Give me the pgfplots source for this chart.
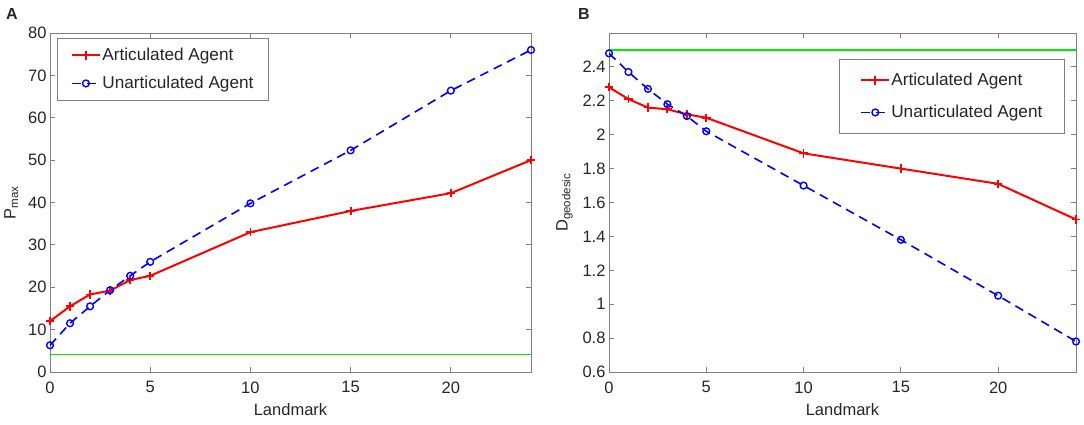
\documentclass[border=0pt]{standalone}
\usepackage{pgfplots}
\pgfplotsset{compat=1.18}
\usepackage{fontspec}
\setmainfont{Liberation Sans}
\definecolor{axgray}{RGB}{128,128,128}
\definecolor{txt}{RGB}{38,38,38}
\definecolor{mred}{RGB}{255,0,0}
\definecolor{mblue}{RGB}{0,0,255}
\definecolor{mgreen}{RGB}{0,235,0}
\pgfplotsset{
  mystyle/.style={
    scale only axis,
    height=339pt,
    xmin=0, xmax=24,
    xtick={0,5,10,15,20},
    tick align=inside,
    major tick length=5pt,
    axis line style={axgray, line width=0.8pt},
    every tick/.style={axgray, line width=0.8pt},
    tick label style={font=\fontsize{16.5}{18}\selectfont, text=txt},
    xticklabel style={yshift=-6pt},
    label style={font=\fontsize{16.5}{18}\selectfont, text=txt},
    /pgf/number format/assume math mode=true,
    xlabel={Landmark},
    xlabel style={yshift=-3pt},
    ylabel style={yshift=3pt},
    legend style={font=\fontsize{17.2}{19}\selectfont, text=txt, draw=axgray, line width=0.8pt,
      nodes={inner xsep=1.5pt, inner ysep=2pt}},
    legend cell align=left,
    legend image code/.code={
      \draw[mark repeat=2,mark phase=2,#1] plot coordinates {(0pt,0pt) (14pt,0pt) (28pt,0pt)};
    },
  },
  artic/.style={mred, line width=2pt, mark=+, mark size=4.2pt, mark options={solid, line width=1.8pt}},
  unart/.style={mblue, line width=1.6pt, dash pattern=on 9pt off 6pt, mark=o, mark size=3.4pt, mark options={solid, line width=1.4pt}},
}
\begin{document}
\begin{tikzpicture}
\useasboundingbox (0,0) rectangle (1084pt,425pt);
\begin{axis}[mystyle,
  at={(50pt,53pt)}, anchor=south west,
  width=481pt,
  ymin=0, ymax=80, ytick={0,10,...,80},
  ylabel={P\textsubscript{max}},
  legend style={at={(0.0146,0.985)}, anchor=north west, inner xsep=13.5pt, inner ysep=8pt, row sep=10pt},
]
\addplot[artic] coordinates {(0,12) (1,15.5) (2,18.3) (3,19.2) (4,21.7) (5,22.7) (10,33) (15,38) (20,42.2) (24,50)};
\addlegendentry{Articulated Agent}
\addplot[unart] coordinates {(0,6.3) (1,11.5) (2,15.5) (3,19.3) (4,22.7) (5,26) (10,39.8) (15,52.3) (20,66.4) (24,76)};
\addlegendentry{Unarticulated Agent}
\addplot[mgreen, line width=1.6pt, forget plot] coordinates {(0,4.1) (24,4.1)};
\end{axis}
\node[font=\fontsize{16}{18}\selectfont\bfseries, text=txt, anchor=base west, inner sep=0pt] at (6pt,405pt) {A};
\begin{axis}[mystyle,
  at={(609pt,53pt)}, anchor=south west,
  width=467pt,
  ymin=0.6, ymax=2.6, ytick={0.6,0.8,1,1.2,1.4,1.6,1.8,2,2.2,2.4},
  ylabel={D\textsubscript{geodesic}},
  legend style={at={(0.976,0.923)}, anchor=north east, inner xsep=21pt, inner ysep=12pt, row sep=14pt,
    nodes={inner xsep=1pt, inner ysep=2pt}},
]
\addplot[artic] coordinates {(0,2.28) (1,2.21) (2,2.16) (3,2.15) (4,2.12) (5,2.10) (10,1.89) (15,1.80) (20,1.71) (24,1.50)};
\addlegendentry{Articulated Agent}
\addplot[unart] coordinates {(0,2.48) (1,2.37) (2,2.27) (3,2.18) (4,2.11) (5,2.02) (10,1.70) (15,1.38) (20,1.05) (24,0.78)};
\addlegendentry{Unarticulated Agent}
\addplot[mgreen, line width=1.6pt, forget plot] coordinates {(0,2.5) (24,2.5)};
\end{axis}
\node[font=\fontsize{16}{18}\selectfont\bfseries, text=txt, anchor=base west, inner sep=0pt] at (578pt,405pt) {B};
\end{tikzpicture}
\end{document}
